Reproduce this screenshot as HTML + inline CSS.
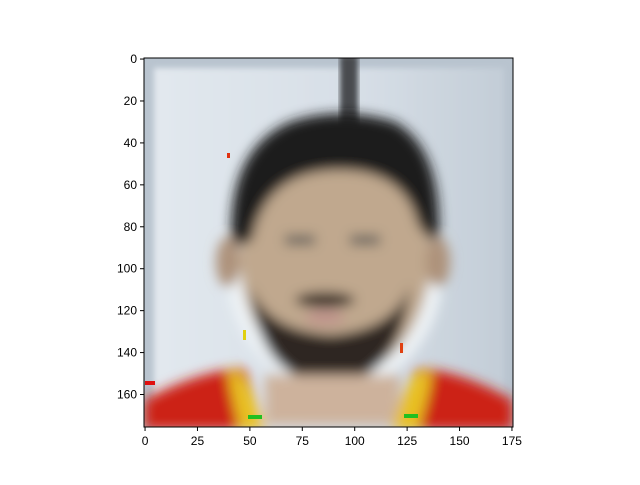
<!DOCTYPE html>
<html><head><meta charset="utf-8"><style>
body{margin:0;background:#fff;font-family:"Liberation Sans","DejaVu Sans",sans-serif}
</style></head><body>
<svg id="chart" width="640" height="480" viewBox="0 0 640 480" xmlns="http://www.w3.org/2000/svg">
<defs>
<clipPath id="ax"><rect x="144" y="58" width="369" height="369"/></clipPath>
<filter id="bl" x="-20%" y="-20%" width="140%" height="140%"><feGaussianBlur stdDeviation="6"/></filter>
<filter id="bl2"><feGaussianBlur stdDeviation="3"/></filter>
<linearGradient id="bg" x1="0" y1="0" x2="1" y2="0"><stop offset="0" stop-color="#e2e8ee"/><stop offset="0.6" stop-color="#d6dee6"/><stop offset="1" stop-color="#c3cdd7"/></linearGradient>
</defs>
<g clip-path="url(#ax)">
<rect x="144" y="58" width="369" height="369" fill="#b9c4cf"/>
<rect x="154" y="68" width="350" height="360" fill="url(#bg)" filter="url(#bl2)"/>
<rect x="340" y="55" width="18" height="75" fill="#4a4c50" filter="url(#bl2)"/>
<g filter="url(#bl)">
<ellipse cx="335" cy="270" rx="108" ry="120" fill="#eef3f6"/>
<ellipse cx="335" cy="258" rx="95" ry="120" fill="#c0a88e"/>
<path d="M232 250 Q225 150 290 122 Q340 105 395 122 Q445 150 438 250 L418 225 Q405 170 340 170 Q265 170 252 240 Z" fill="#1c1c1c"/>
<ellipse cx="228" cy="262" rx="12" ry="25" fill="#ad927a"/>
<ellipse cx="438" cy="262" rx="12" ry="25" fill="#ad927a"/>
<path d="M250 285 Q260 382 330 384 Q400 382 410 285 Q395 330 330 335 Q265 330 250 285 Z" fill="#2f2622"/>
<ellipse cx="325" cy="300" rx="30" ry="8" fill="#3a2d28"/>
<ellipse cx="325" cy="318" rx="20" ry="7" fill="#c0938c"/>
<rect x="285" y="235" width="30" height="10" fill="#6b665e"/>
<rect x="350" y="235" width="30" height="10" fill="#6b665e"/>
<rect x="265" y="375" width="135" height="50" fill="#cdb29c"/>
<path d="M144 400 Q200 370 245 368 L265 430 L144 430 Z" fill="#cc2418"/>
<path d="M513 400 Q460 370 415 368 L395 430 L513 430 Z" fill="#cc2418"/>
<path d="M235 370 Q250 380 265 430 L240 430 Q232 400 228 375 Z" fill="#e8c020"/>
<path d="M420 370 Q405 380 392 430 L418 430 Q428 400 432 375 Z" fill="#e8c020"/>
</g>
<rect x="145" y="381" width="10" height="4" fill="#e01010"/>
<rect x="248" y="415" width="14" height="4" fill="#20c020"/>
<rect x="404" y="414" width="14" height="4" fill="#20c020"/>
<rect x="227" y="153" width="3" height="5" fill="#e03010"/>
<rect x="243" y="330" width="3" height="10" fill="#e0d010"/>
<rect x="400" y="343" width="3" height="10" fill="#e04010"/>
</g>
<rect x="144" y="58" width="369" height="369" fill="none" stroke="#000" stroke-width="1"/>
<g id="xt"></g>
<g id="yt"></g>
</svg>
<script>
const xTicks=[0,25,50,75,100,125,150,175];
const yTicks=[0,20,40,60,80,100,120,140,160];
const imgSize=[176,176];
const ns="http://www.w3.org/2000/svg";
const L=144,T=58,W=369,H=369;
function sx(v){return L+(v+0.5)*W/imgSize[0];}
function sy(v){return T+(v+0.5)*H/imgSize[1];}
const xg=document.getElementById('xt'),yg=document.getElementById('yt');
xTicks.forEach(v=>{
 const x=sx(v);
 const l=document.createElementNS(ns,'line');
 
 
 l.setAttribute('x1',x);l.setAttribute('x2',x);l.setAttribute('y1',T+H);l.setAttribute('y2',T+H+4);l.setAttribute('stroke','#000');
 xg.appendChild(l);
 const t=document.createElementNS(ns,'text');
 
 
 t.setAttribute('x',x);t.setAttribute('y',T+H+18);t.setAttribute('text-anchor','middle');t.setAttribute('font-size','12');
 t.textContent=v;xg.appendChild(t);
});
yTicks.forEach(v=>{
 const y=sy(v);
 const l=document.createElementNS(ns,'line');
 
 
 l.setAttribute('x1',L-4);l.setAttribute('x2',L);l.setAttribute('y1',y);l.setAttribute('y2',y);l.setAttribute('stroke','#000');
 yg.appendChild(l);
 const t=document.createElementNS(ns,'text');
 
 
 t.setAttribute('x',L-7);t.setAttribute('y',y+4);t.setAttribute('text-anchor','end');t.setAttribute('font-size','12');
 t.textContent=v;yg.appendChild(t);
});
</script>
</body></html>
